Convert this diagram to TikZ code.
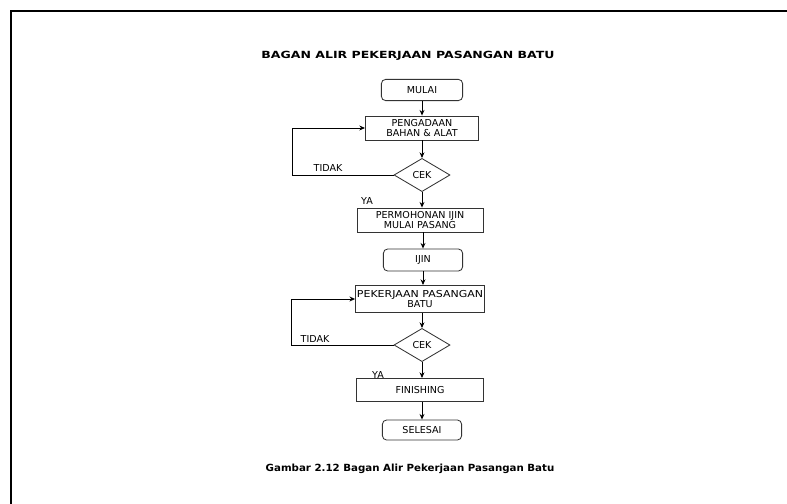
\documentclass[tikz,border=0pt]{standalone}
\usepackage{fontspec}
\setmainfont{DejaVu Sans}
\usetikzlibrary{shapes,arrows,positioning,calc,arrows.meta}

\tikzset{
  kotak/.style={draw=black!80, line width=0.6pt, align=center, inner sep=1pt,
    font=\fontsize{6.8}{7.4}\selectfont},
  bulat/.style={kotak, rounded corners=3pt},
  cek/.style={diamond, draw=black!80, line width=0.6pt, minimum width=1.4cm,
    minimum height=0.83cm, inner sep=0pt, font=\fontsize{6.8}{7.4}\selectfont},
  panah/.style={-{Stealth[length=4pt,width=3.5pt]}, line width=0.7pt},
  teks/.style={font=\fontsize{6.8}{7.4}\selectfont}
}

\begin{document}
\begin{tikzpicture}[x=0.025cm,y=-0.025cm]
    \useasboundingbox (0,0) rectangle (787,504);
    \draw[line width=2pt] (11,504) -- (11,11) -- (787,11);

    % judul dan keterangan
    \node[font=\fontsize{7}{8}\bfseries] (judul) at (408,56) {\scalebox{1.27}[1]{BAGAN ALIR PEKERJAAN PASANGAN BATU}};
    \node[font=\fontsize{7}{8}\bfseries] (gambar) at (410,469) {\scalebox{1.04}[1]{Gambar 2.12 Bagan Alir Pekerjaan Pasangan Batu}};

    % alur
    \node[bulat, minimum width=2.03cm, minimum height=0.53cm] (mulai) at (422,90) {MULAI};
    \node[kotak, minimum width=2.83cm, minimum height=0.6cm] (bahan) at (422,128) {PENGADAAN\\BAHAN \& ALAT};
    \node[cek] (cek1) at (422,175) {CEK};
    \node[kotak, minimum width=3.15cm, minimum height=0.6cm] (ijinbox) at (420,220) {PERMOHONAN IJIN\\MULAI PASANG};
    \node[bulat, minimum width=1.98cm, minimum height=0.55cm] (ijin) at (423,260) {IJIN};
    \node[kotak, minimum width=3.2cm, minimum height=0.68cm] (batu) at (420,299) {\scalebox{1.15}[1]{PEKERJAAN PASANGAN}\\BATU};
    \node[cek] (cek2) at (422,345) {CEK};
    \node[kotak, minimum width=3.18cm, minimum height=0.58cm] (finish) at (420,390) {FINISHING};
    \node[bulat, minimum width=1.98cm, minimum height=0.5cm] (selesai) at (422,430) {SELESAI};

    \draw[panah] (mulai) -- (mulai |- bahan.north);
    \draw[panah] (bahan.south -| cek1) -- (cek1.north);
    \draw[panah] (cek1.south) -- (cek1 |- ijinbox.north);
    \draw[panah] (ijinbox.south -| ijin) -- (ijin.north);
    \draw[panah] (ijin.south) -- (ijin |- batu.north);
    \draw[panah] (batu.south -| cek2) -- (cek2.north);
    \draw[panah] (cek2.south) -- (cek2 |- finish.north);
    \draw[panah] (finish.south -| selesai) -- (selesai.north);

    % balik jika tidak
    \coordinate (balik1) at (292,175);
    \coordinate (balik2) at (291,345);
    \draw[panah] (cek1.west) -- (balik1) |- (bahan.west);
    \draw[panah] (cek2.west) -- (balik2) |- (batu.west);

    \node[teks] (tidak1) at (328,168) {TIDAK};
    \node[teks] (tidak2) at (315,339) {TIDAK};
    \node[teks] (ya1) at (367,201) {YA};
    \node[teks] (ya2) at (378,375) {YA};
\end{tikzpicture}
\end{document}
